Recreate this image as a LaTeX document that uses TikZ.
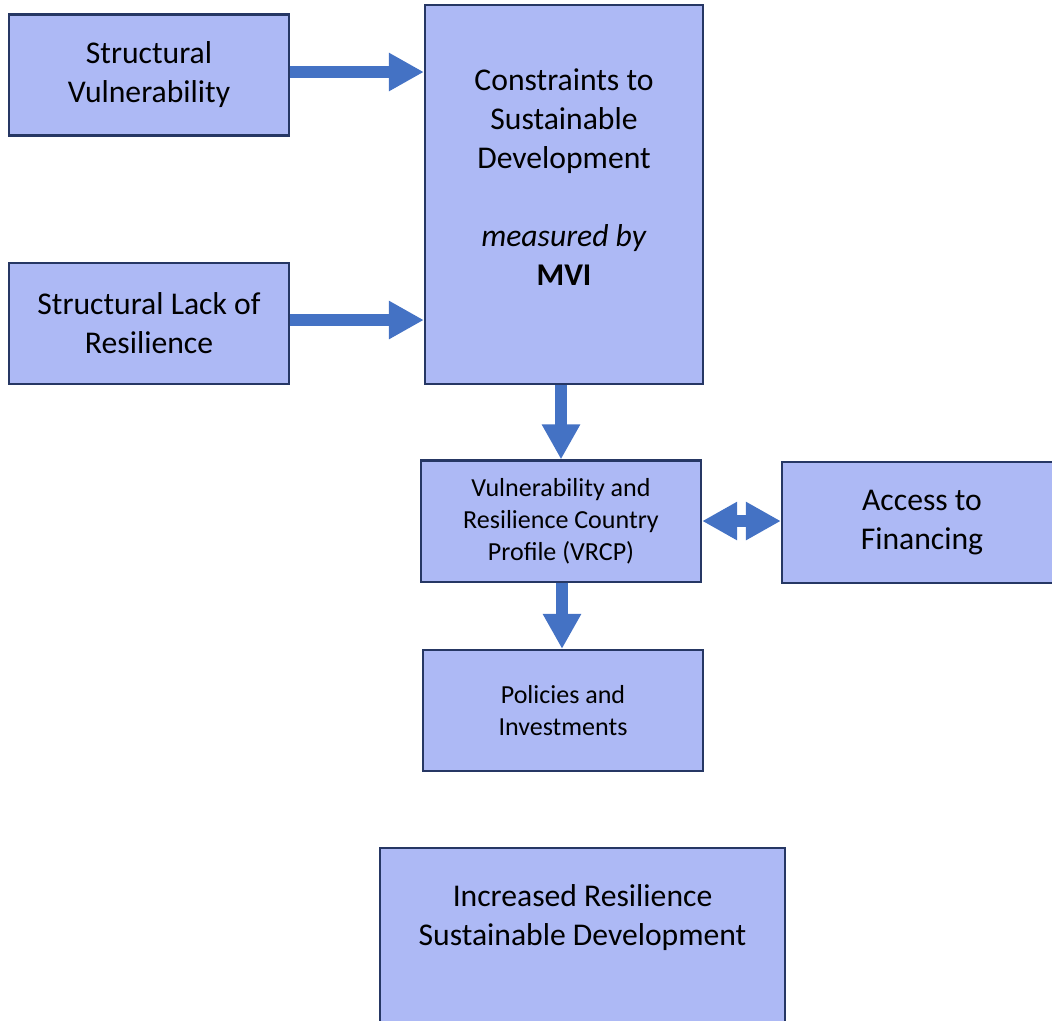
\documentclass[tikz,border=0pt]{standalone}
\usepackage{fontspec}
\setmainfont{Carlito}
\usepackage{tikz}
\usetikzlibrary{arrows.meta,positioning}
\usepackage{xcolor}
\definecolor{mvfill}{RGB}{173,185,245}
\definecolor{mvline}{RGB}{38,55,100}
\definecolor{mvarrow}{RGB}{68,114,196}
\tikzstyle{flow} = [line width=3.4pt,color=mvarrow,-{Triangle[length=0.35cm,width=0.36cm]}]
\tikzstyle{twoway} = [line width=3.4pt,color=mvarrow,{Triangle[length=0.35cm,width=0.36cm]}-{Triangle[length=0.35cm,width=0.36cm]}]
\tikzstyle{box} = [rectangle, minimum width=2.8cm, minimum height=1.21cm, text centered, align=center, draw=mvline, fill=mvfill, line width=0.6pt, inner sep=0pt]
\tikzstyle{bigtext} = [font=\fontsize{9}{11.1}\selectfont]
\tikzstyle{smalltext} = [font=\fontsize{7.4}{9.1}\selectfont]

\begin{document}
\begin{tikzpicture}[x=0.01cm, y=-0.01cm]
\clip (0,0) rectangle (1052,1020);
% Drivers
\node[box, bigtext] (sv) at (149,75) {Structural\\Vulnerability};
\node[box, bigtext] (slr) at (149,323.5) {Structural Lack of\\Resilience};

% Constraints
\node[box, minimum width=2.78cm, minimum height=3.79cm] (csd) at (564,194.5) {};
\node[bigtext, align=center] (csdtext) at (564,177) {Constraints to\\Sustainable\\Development\\[11.1pt]\textit{measured by}\\\textbf{MVI}};

% Profile and financing
\node[box, smalltext] (vrcp) at (561,521) {Vulnerability and\\Resilience Country\\Profile (VRCP)};
\node[box, bigtext] (atf) at (922,522.5) {Access to\\Financing};

% Outcomes
\node[box, smalltext] (pi) at (563,710.5) {Policies and\\Investments};
\node[box, minimum width=4.05cm, minimum height=2.0cm] (isd) at (582.5,948) {};
\node[bigtext, align=center] (isdtext) at (582.5,917.5) {Increased Resilience\\Sustainable Development};

% Connections
\draw[flow] (sv.east |- 0,72) -- (csd.west |- 0,72);
\draw[flow] (slr.east |- 0,320) -- (csd.west |- 0,320);
\draw[flow] (csd.south -| vrcp) -- (vrcp.north);
\draw[flow] (vrcp.south -| 562,0) -- (pi.north -| 562,0);
\draw[twoway] (vrcp.east) -- (atf.west |- vrcp.east);
\end{tikzpicture}
\end{document}
